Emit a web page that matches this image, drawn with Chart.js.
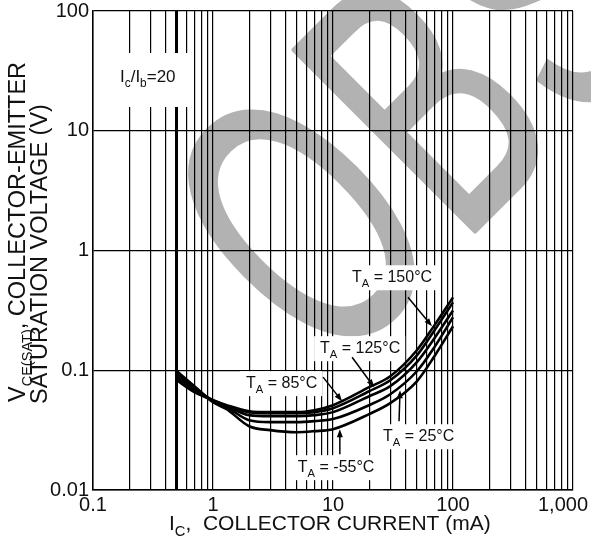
<!DOCTYPE html>
<html>
<head>
<meta charset="utf-8">
<script src="https://cdn.jsdelivr.net/npm/chart.js@4.4.1/dist/chart.umd.min.js"></script>
<style>
  html, body { margin: 0; padding: 0; background: #fff; }
  #wrap { width: 591px; height: 538px; }
</style>
</head>
<body>
<div id="wrap"><canvas id="chart" width="591" height="538"></canvas></div>
<script>
// collector current (mA)
const currentMA = [0.5, 0.7, 1, 1.3, 2, 3, 5, 7, 10, 20, 30, 50, 70, 100];

// VCE(sat) in volts at Ic/Ib = 20, one array per ambient temperature
const vsatM55 = [0.098, 0.0736, 0.0541, 0.0473, 0.0341, 0.0316, 0.0304, 0.031, 0.0322, 0.043, 0.0531, 0.0809, 0.131, 0.233];
const vsat25  = [0.0944, 0.0722, 0.0552, 0.0492, 0.0383, 0.0369, 0.0369, 0.0376, 0.0391, 0.0511, 0.0631, 0.0981, 0.156, 0.277];
const vsat85  = [0.0891, 0.0695, 0.0552, 0.0501, 0.0422, 0.0414, 0.0414, 0.0422, 0.0447, 0.0607, 0.0736, 0.117, 0.185, 0.316];
const vsat125 = [0.0858, 0.0681, 0.0562, 0.0506, 0.0447, 0.0438, 0.0438, 0.0447, 0.0482, 0.0668, 0.0825, 0.133, 0.215, 0.369];
const vsat150 = [0.0825, 0.0656, 0.0562, 0.0511, 0.0455, 0.0447, 0.0447, 0.0464, 0.0511, 0.0722, 0.0891, 0.147, 0.237, 0.406];

// axis ticks
const xGridValues = [0.1, 0.2, 0.3, 0.4, 0.5, 0.6, 0.7, 0.8, 0.9,
  1, 2, 3, 4, 5, 6, 7, 8, 9,
  10, 20, 30, 40, 50, 60, 70, 80, 90,
  100, 200, 300, 400, 500, 600, 700, 800, 900, 1000];
const xTickValues = [0.1, 1, 10, 100, 1000];
const xTickLabels = ['0.1', '1', '10', '100', '1,000'];
const yTickValues = [0.01, 0.1, 1, 10, 100];
const yTickLabels = ['0.01', '0.1', '1', '10', '100'];

// curve labels, arrow tips sit on the curves (mA, V)
const labelTemps = ['150', '125', '85', '25', '-55'];
const labelTipCurrent = [66.8, 22.0, 11.9, 36.2, 11.4];
const labelTipVsat = [0.233, 0.0722, 0.0552, 0.0681, 0.0322];

const watermarkText = 'OBSOLETE';

const FONT = '"Liberation Sans", Arial, Helvetica, sans-serif';

// text offsets from the arrow tip, in px
const labelLayout = [
    { dx: -80, dy: -44, tx: -24, ty: -29 },
    { dx: -54, dy: -34, tx: -22, ty: -30 },
    { dx: -96, dy: -13, tx: -19, ty: -24 },
    { dx: -17, dy: 51, tx: -1, ty: 31 },
    { dx: -42, dy: 43, tx: 0, ty: 25 },
];

function richWidth(ctx, parts, size, subRatio = 0.7) {
    let w = 0;
    parts.forEach(p => {
        ctx.font = (p.sub ? size * subRatio : size) + 'px ' + FONT;
        w += ctx.measureText(p.t).width;
    });
    return w;
}

function drawRich(ctx, parts, x, y, size, subRatio = 0.7) {
    let cx = x;
    parts.forEach(p => {
        ctx.font = (p.sub ? size * subRatio : size) + 'px ' + FONT;
        ctx.fillText(p.t, cx, y + (p.sub ? size * 0.3 : 0));
        cx += ctx.measureText(p.t).width;
    });
}

function drawArrow(ctx, x0, y0, x1, y1) {
    const ang = Math.atan2(y1 - y0, x1 - x0);
    const len = 8, half = 3;
    ctx.beginPath();
    ctx.moveTo(x0, y0);
    ctx.lineTo(x1 - Math.cos(ang) * len * 0.8, y1 - Math.sin(ang) * len * 0.8);
    ctx.stroke();
    ctx.beginPath();
    ctx.moveTo(x1, y1);
    ctx.lineTo(x1 - Math.cos(ang) * len - Math.sin(ang) * half, y1 - Math.sin(ang) * len + Math.cos(ang) * half);
    ctx.lineTo(x1 - Math.cos(ang) * len + Math.sin(ang) * half, y1 - Math.sin(ang) * len - Math.cos(ang) * half);
    ctx.closePath();
    ctx.fill();
}

// big grey stamp behind the grid
const watermark = {
    id: 'watermark',
    beforeDraw(chart) {
        const ctx = chart.ctx;
        ctx.save();
        ctx.fillStyle = '#b2b2b2';
        ctx.strokeStyle = '#b2b2b2';
        ctx.lineWidth = 5;
        ctx.lineJoin = 'round';
        ctx.font = '372px ' + FONT;
        ctx.textBaseline = 'alphabetic';
        ctx.translate(330, 376);
        ctx.rotate(-Math.PI / 4);
        ctx.scale(0.61, 1);
        let cx = 0;
        for (const ch of watermarkText) {
            ctx.fillText(ch, cx, 0);
            ctx.strokeText(ch, cx, 0);
            cx += ctx.measureText(ch).width + 15;
        }
        ctx.restore();
    }
};

// white boxed labels with arrows, drawn over the grid but under the curves
const curveLabels = {
    id: 'curveLabels',
    beforeDatasetsDraw(chart) {
        const ctx = chart.ctx;
        const { x, y } = chart.scales;
        const area = chart.chartArea;
        ctx.save();
        ctx.textBaseline = 'alphabetic';

        // Ic/Ib box
        ctx.fillStyle = '#fff';
        ctx.fillRect(area.left + 7, area.top + 42, 90, 54);
        ctx.fillStyle = '#111';
        drawRich(ctx, [{ t: 'I' }, { t: 'c', sub: true }, { t: '/I' }, { t: 'b', sub: true }, { t: '=20' }],
            area.left + 27, area.top + 71, 17);

        labelTemps.forEach((temp, i) => {
            const tipX = x.getPixelForValue(labelTipCurrent[i]);
            const tipY = y.getPixelForValue(labelTipVsat[i]);
            const lay = labelLayout[i];
            const parts = [{ t: 'T' }, { t: 'A', sub: true }, { t: ' = ' + temp + '\u00B0C' }];
            const w = richWidth(ctx, parts, 16);
            const tx = tipX + lay.dx, ty = tipY + lay.dy;
            ctx.fillStyle = '#fff';
            ctx.fillRect(tx - 6, ty - 17, w + 11, 25);
            ctx.fillStyle = '#111';
            drawRich(ctx, parts, tx, ty, 16);
            ctx.strokeStyle = '#000';
            ctx.fillStyle = '#000';
            ctx.lineWidth = 1.5;
            drawArrow(ctx, tipX + lay.tx, tipY + lay.ty, tipX, tipY);
        });
        ctx.restore();
    }
};

// axis titles and x tick labels
const axisText = {
    id: 'axisText',
    afterDraw(chart) {
        const ctx = chart.ctx;
        const xs = chart.scales.x;
        const area = chart.chartArea;
        ctx.save();
        ctx.fillStyle = '#111';

        ctx.font = '20px ' + FONT;
        ctx.textBaseline = 'top';
        ctx.textAlign = 'center';
        xTickValues.forEach((v, i) => {
            const w = ctx.measureText(xTickLabels[i]).width;
            let px = xs.getPixelForValue(v);
            px = Math.min(Math.max(px, w / 2 + 2), chart.width - w / 2 - 3);
            ctx.fillText(xTickLabels[i], px, area.bottom + 5);
        });

        ctx.textAlign = 'left';
        ctx.textBaseline = 'alphabetic';
        drawRich(ctx, [{ t: 'I' }, { t: 'C', sub: true }, { t: ',  COLLECTOR CURRENT (mA)' }], 169, 530, 21);

        const line1 = [{ t: 'V' }, { t: 'CE(SAT)', sub: true }, { t: ', COLLECTOR-EMITTER' }];
        const line2 = [{ t: 'SATURATION VOLTAGE (V)' }];
        ctx.rotate(-Math.PI / 2);
        const w1 = richWidth(ctx, line1, 23.5, 0.62);
        drawRich(ctx, line1, -232 - w1 / 2, 25, 23.5, 0.62);
        const w2 = richWidth(ctx, line2, 23.5);
        drawRich(ctx, line2, -254 - w2 / 2, 47, 23.5);
        ctx.restore();
    }
};

const seriesList = [vsatM55, vsat25, vsat85, vsat125, vsat150];

new Chart(document.getElementById('chart'), {
    type: 'line',
    data: {
        datasets: seriesList.map(vals => ({
            data: currentMA.map((c, i) => ({ x: c, y: vals[i] })),
            borderColor: '#000',
            borderWidth: 2.6,
            pointRadius: 0,
            cubicInterpolationMode: 'monotone',
            fill: false
        }))
    },
    options: {
        responsive: false,
        animation: false,
        devicePixelRatio: 1,
        layout: { padding: { left: 0, top: 11, right: 18, bottom: 0 } },
        plugins: { legend: { display: false }, tooltip: { enabled: false } },
        scales: {
            x: {
                type: 'logarithmic',
                min: 0.1,
                max: 1000,
                afterBuildTicks: axis => { axis.ticks = xGridValues.map(v => ({ value: v })); },
                afterFit: axis => { axis.height = 48; axis.paddingLeft = 0; axis.paddingRight = 0; },
                grid: {
                    color: '#000',
                    lineWidth: c => (c.tick && c.tick.value === 0.5 ? 3 : 1.2),
                    drawTicks: false
                },
                border: { display: true, color: '#000', width: 1.5 },
                ticks: { display: false, autoSkip: false }
            },
            y: {
                type: 'logarithmic',
                min: 0.01,
                max: 100,
                afterBuildTicks: axis => { axis.ticks = yTickValues.map(v => ({ value: v })); },
                afterFit: axis => { axis.width = 93; axis.paddingTop = 0; axis.paddingBottom = 0; },
                grid: { color: '#000', lineWidth: 1.2, drawTicks: false },
                border: { display: true, color: '#000', width: 1.5 },
                ticks: {
                    color: '#111',
                    autoSkip: false,
                    padding: 4,
                    font: { family: FONT, size: 20 },
                    callback: (value, index) => yTickLabels[index]
                }
            }
        }
    },
    plugins: [watermark, curveLabels, axisText]
});
</script>
</body>
</html>
